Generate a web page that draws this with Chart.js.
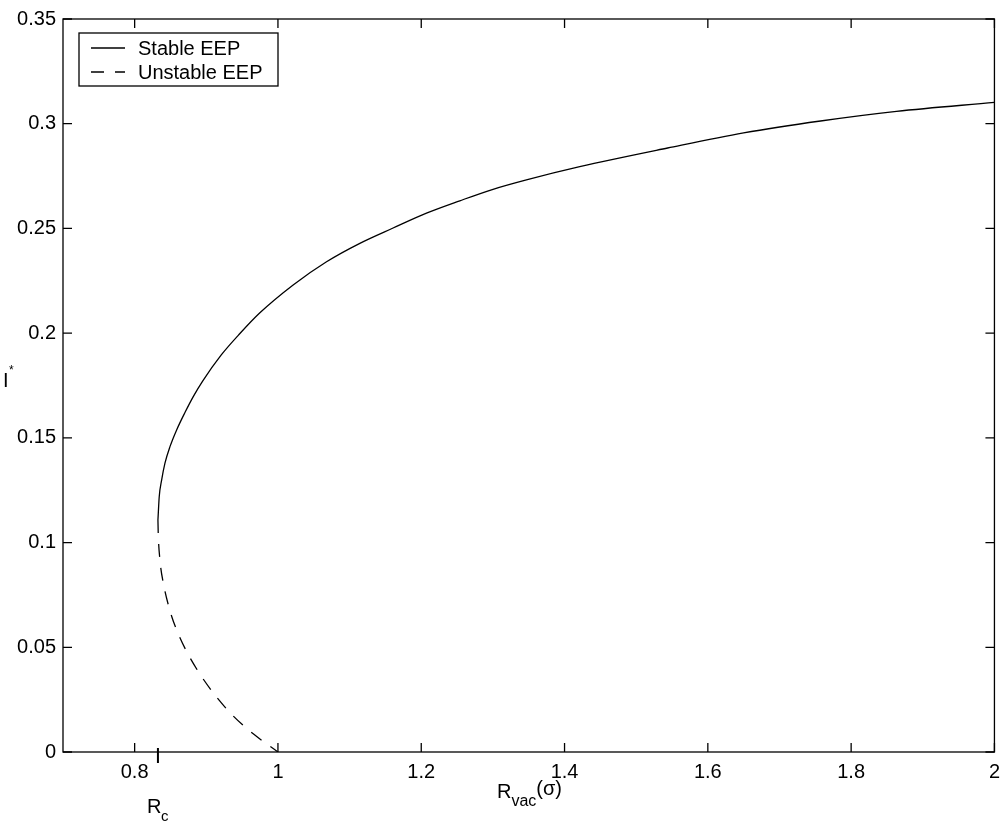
<!DOCTYPE html>
<html>
<head>
<meta charset="utf-8">
<script src="https://cdn.jsdelivr.net/npm/chart.js@4"></script>
<style>
  html, body { margin: 0; padding: 0; background: #fff; }
  #wrap { width: 1008px; height: 827px; }
</style>
</head>
<body>
<div id="wrap"><canvas id="plot"></canvas></div>
<script>
// values
const stableR = [0.8325, 0.8343, 0.8377, 0.8423, 0.8493, 0.8586, 0.8702, 0.8818, 0.8949, 0.9209, 0.9469, 0.9748, 1.0212, 1.0678, 1.1143, 1.1607, 1.2073, 1.2538, 1.3002, 1.3468, 1.4212, 1.5439, 1.6499, 1.7573, 1.8633, 2.0];
const stableI = [0.1108, 0.1219, 0.1299, 0.1379, 0.1458, 0.1538, 0.1621, 0.1697, 0.1771, 0.1896, 0.1998, 0.2097, 0.2230, 0.2341, 0.2429, 0.2502, 0.2573, 0.2632, 0.2687, 0.2732, 0.2795, 0.2884, 0.2956, 0.3013, 0.3059, 0.3102];
const unstableR = [0.8325, 0.8329, 0.8353, 0.8400, 0.8490, 0.8586, 0.8725, 0.8911, 0.9144, 0.9376, 0.9655, 1.0];
const unstableI = [0.1108, 0.1046, 0.0917, 0.0807, 0.0678, 0.0583, 0.0480, 0.0372, 0.0262, 0.0172, 0.0087, 0];
const xTicks = [0.8, 1, 1.2, 1.4, 1.6, 1.8, 2];
const yTicks = [0, 0.05, 0.1, 0.15, 0.2, 0.25, 0.3, 0.35];
const Rc = 0.8325;

const FONT = '"Liberation Sans", Arial, Helvetica, sans-serif';
const fmt = v => String(+Number(v).toFixed(2));

// ticks inside the box, frame, legend and the odd labels
const extras = {
  id: 'extras',
  afterDraw(chart) {
    const ctx = chart.ctx;
    const a = chart.chartArea;
    const xs = chart.scales.x, ys = chart.scales.y;
    ctx.save();
    ctx.strokeStyle = '#000';
    ctx.fillStyle = '#000';
    ctx.lineWidth = 1.3;
    ctx.strokeRect(a.left, a.top, a.right - a.left, a.bottom - a.top);

    const tl = 9;
    ctx.beginPath();
    xTicks.forEach(v => {
      const px = xs.getPixelForValue(v);
      ctx.moveTo(px, a.bottom); ctx.lineTo(px, a.bottom - tl);
      ctx.moveTo(px, a.top); ctx.lineTo(px, a.top + tl);
    });
    yTicks.forEach(v => {
      const py = ys.getPixelForValue(v);
      ctx.moveTo(a.left, py); ctx.lineTo(a.left + tl, py);
      ctx.moveTo(a.right, py); ctx.lineTo(a.right - tl, py);
    });
    ctx.stroke();

    // Rc marker
    const rx = xs.getPixelForValue(Rc);
    ctx.lineWidth = 2;
    ctx.beginPath();
    ctx.moveTo(rx, a.bottom - 4); ctx.lineTo(rx, a.bottom + 11);
    ctx.stroke();

    ctx.textBaseline = 'alphabetic';
    ctx.textAlign = 'left';
    // R_c
    ctx.font = '20px ' + FONT;
    ctx.fillText('R', rx - 11, 813);
    ctx.font = '15px ' + FONT;
    ctx.fillText('c', rx + 3, 821);

    // x title R_vac(σ)
    let tx = 497;
    ctx.font = '20px ' + FONT;
    ctx.fillText('R', tx, 798);
    tx += ctx.measureText('R').width;
    ctx.font = '16px ' + FONT;
    ctx.fillText('vac', tx, 806);
    tx += ctx.measureText('vac').width;
    ctx.font = '20px ' + FONT;
    ctx.fillText('(σ)', tx, 795);

    // y title I*
    ctx.font = '20px ' + FONT;
    ctx.fillText('I', 3, 387);
    ctx.font = '12px ' + FONT;
    ctx.fillText('*', 9, 374);

    // legend
    const lx = 79, ly = 33, lw = 199, lh = 53;
    ctx.lineWidth = 1.3;
    ctx.strokeRect(lx, ly, lw, lh);
    ctx.font = '20px ' + FONT;
    chart.data.datasets.forEach((ds, i) => {
      const y = ly + 15 + i * 24;
      ctx.setLineDash(ds.borderDash || []);
      ctx.lineWidth = ds.borderWidth;
      ctx.beginPath();
      ctx.moveTo(lx + 12, y); ctx.lineTo(lx + 46, y);
      ctx.stroke();
      ctx.setLineDash([]);
      ctx.fillText(ds.label, lx + 59, y + 7);
    });
    ctx.restore();
  }
};

new Chart(document.getElementById('plot'), {
  type: 'scatter',
  data: {
    datasets: [
      {
        label: 'Stable EEP',
        data: stableR.map((r, i) => ({ x: r, y: stableI[i] })),
        showLine: true,
        borderColor: '#000',
        borderWidth: 1.3,
        pointRadius: 0,
        cubicInterpolationMode: 'monotone'
      },
      {
        label: 'Unstable EEP',
        data: unstableR.map((r, i) => ({ x: r, y: unstableI[i] })),
        showLine: true,
        borderColor: '#000',
        borderWidth: 1.3,
        borderDash: [13, 11],
        pointRadius: 0,
        cubicInterpolationMode: 'monotone'
      }
    ]
  },
  options: {
    responsive: true,
    maintainAspectRatio: false,
    animation: false,
    layout: { padding: { top: 19, right: 13, left: 0, bottom: 0 } },
    plugins: {
      legend: { display: false },
      tooltip: { enabled: false }
    },
    scales: {
      x: {
        type: 'linear',
        min: 0.7,
        max: 2,
        afterFit: s => { s.height = 75; },
        afterBuildTicks: s => { s.ticks = xTicks.map(v => ({ value: v })); },
        grid: { display: false, drawTicks: false },
        border: { display: false },
        ticks: {
          color: '#000',
          padding: 8,
          maxRotation: 0,
          font: { family: FONT, size: 20 },
          callback: v => fmt(v)
        }
      },
      y: {
        type: 'linear',
        min: 0,
        max: 0.35,
        afterFit: s => { s.width = 63; },
        afterBuildTicks: s => { s.ticks = yTicks.map(v => ({ value: v })); },
        grid: { display: false, drawTicks: false },
        border: { display: false },
        ticks: {
          color: '#000',
          padding: 7,
          font: { family: FONT, size: 20 },
          callback: v => fmt(v)
        }
      }
    }
  },
  plugins: [extras]
});
</script>
</body>
</html>
